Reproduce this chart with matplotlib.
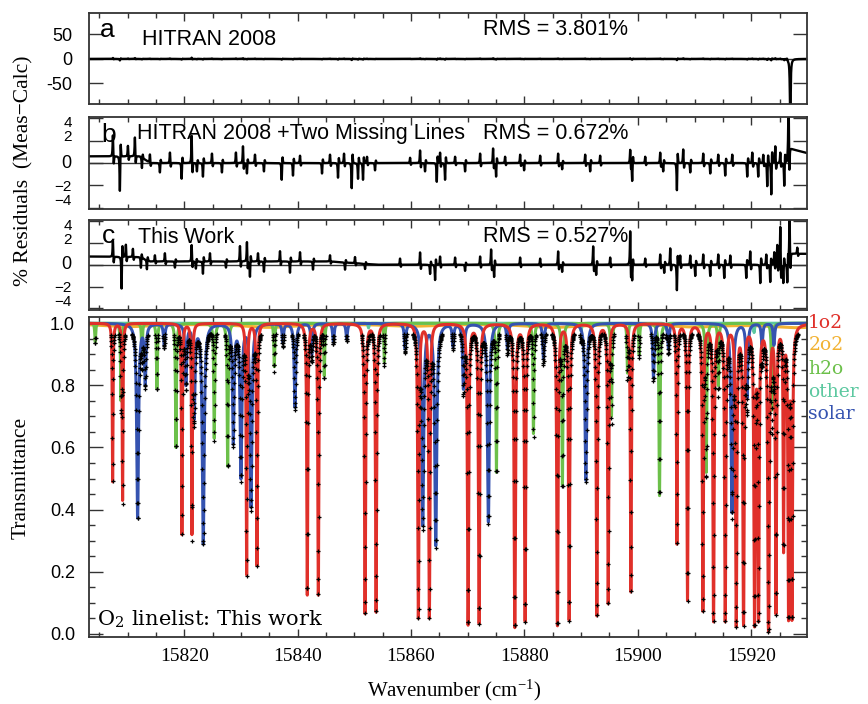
import numpy as np
import matplotlib.pyplot as plt
from matplotlib.ticker import MultipleLocator
from matplotlib.transforms import blended_transform_factory

plt.rcParams['font.family'] = 'Liberation Sans'
plt.rcParams['mathtext.fontset'] = 'stix'
plt.rcParams['axes.unicode_minus'] = False

# wavenumber window (cm-1)
wn_min, wn_max = 15803.2, 15929.8

# ---- line lists: centre (cm-1), transmittance at centre
o2_pos = [15807.37, 15809.13, 15819.59, 15821.36, 15831.01, 15832.83, 15841.70, 15843.65,
          15851.89, 15853.83, 15861.29, 15863.23, 15870.06, 15872.00, 15878.30, 15880.12,
          15885.82, 15887.88, 15892.77, 15894.77, 15898.77, 15906.89, 15908.76, 15911.47,
          15913.35, 15915.41, 15917.35, 15918.64, 15920.58, 15921.29, 15923.05, 15924.36,
          15925.70, 15926.58, 15927.18]
o2_tmin = [0.49, 0.43, 0.32, 0.32, 0.19, 0.22, 0.125, 0.125,
           0.065, 0.07, 0.05, 0.05, 0.028, 0.033, 0.02, 0.04,
           0.026, 0.044, 0.058, 0.097, 0.135, 0.29, 0.108, 0.073,
           0.039, 0.039, 0.023, 0.028, 0.023, 0.04, 0.006, 0.065,
           0.27, 0.044, 0.045]

h2o_pos = [15804.30, 15808.85, 15812.54, 15815.18, 15818.54, 15825.29, 15827.66, 15835.88,
           15844.70, 15855.29, 15875.06, 15881.59, 15886.70, 15895.35, 15898.17, 15900.23,
           15903.82, 15912.06, 15914.20, 15923.65]
h2o_tmin = [0.94, 0.75, 0.90, 0.79, 0.60, 0.63, 0.54, 0.86,
            0.83, 0.875, 0.52, 0.645, 0.48, 0.70, 0.84, 0.90,
            0.445, 0.52, 0.80, 0.72]

solar_pos = [15811.78, 15813.12, 15816.47, 15820.30, 15821.76, 15823.35, 15828.65, 15830.00,
             15831.77, 15837.40, 15839.53, 15842.48, 15846.30, 15848.66, 15858.95, 15862.07,
             15864.36, 15867.40, 15869.23, 15873.64, 15877.00, 15883.35, 15890.83, 15902.76,
             15905.40, 15916.60, 15919.24, 15921.90, 15924.00]
solar_tmin = [0.374, 0.81, 0.93, 0.805, 0.70, 0.29, 0.617, 0.505,
              0.41, 0.94, 0.73, 0.90, 0.94, 0.95, 0.92, 0.35,
              0.285, 0.93, 0.79, 0.36, 0.92, 0.885, 0.494, 0.826,
              0.917, 0.39, 0.76, 0.93, 0.93]

o2o2_pos = [15810.0, 15835.0, 15860.0, 15885.0, 15910.0, 15928.0]
o2o2_tmin = [0.99, 0.988, 0.992, 0.988, 0.99, 0.987]

other_pos = [15852.5, 15890.0, 15905.0, 15920.5]
other_tmin = [0.985, 0.975, 0.98, 0.97]

# ---- residual features (cm-1, % residual)
res_b_pos = [15807.42, 15808.65, 15810.07, 15811.30, 15812.54, 15813.95, 15815.71, 15817.48,
             15819.54, 15821.31, 15822.24, 15823.30, 15824.89, 15826.65, 15829.12, 15830.36,
             15831.06, 15832.48, 15834.06, 15837.19, 15839.18, 15840.42, 15844.30, 15845.71,
             15847.12, 15848.18, 15849.54, 15850.65, 15851.53, 15852.24, 15853.65, 15859.83,
             15861.59, 15862.47, 15864.54, 15865.12, 15866.00, 15867.77, 15869.53, 15872.18,
             15874.47, 15875.00, 15876.59, 15879.24, 15879.94, 15882.77, 15885.94, 15886.65,
             15890.71, 15891.59, 15893.35, 15898.65, 15899.00, 15901.30, 15903.94, 15904.47,
             15906.89, 15908.00, 15909.24, 15911.53, 15912.77, 15914.18, 15915.41, 15916.65,
             15919.29, 15920.18, 15921.23, 15922.12, 15922.82, 15923.53, 15924.24, 15925.12,
             15925.82, 15926.58]
res_b_amp = [2.0, -3.3, 1.0, 1.8, -1.0, 0.8, -0.9, 1.0,
             -1.5, 2.6, -0.8, -1.3, 0.9, -0.9, 1.0, 1.6,
             -1.0, 0.8, -0.8, -1.6, -1.2, 0.7, -1.0, 0.8,
             -1.4, 0.9, -2.4, -1.5, -1.6, 0.6, -0.7, 0.5,
             1.2, -0.8, -1.8, 1.0, -1.6, 0.6, -0.8, 0.9,
             1.4, -1.3, 0.6, 0.8, -0.7, 0.7, 0.9, -0.6,
             0.8, -0.8, 0.7, 1.3, -1.7, 0.6, 1.0, -0.8,
             -2.6, 1.3, -0.9, 0.9, -1.0, 0.8, -1.2, 0.8,
             -1.3, 1.0, -1.3, 0.8, -2.2, -3.0, 1.6, 1.0,
             -2.2, 6.0]
base_b_pos = [15803.2, 15812.2, 15814.0, 15926.3, 15926.7, 15929.8]
base_b_val = [0.6, 0.6, 0.0, 0.0, 1.3, 0.9]

res_c_pos = [15807.42, 15808.95, 15809.71, 15810.95, 15812.36, 15813.42, 15814.83, 15816.59,
             15818.36, 15821.31, 15822.06, 15823.30, 15824.54, 15827.36, 15829.83, 15831.06,
             15831.59, 15833.01, 15834.06, 15836.89, 15838.65, 15840.42, 15842.71, 15845.71,
             15848.36, 15850.12, 15851.89, 15858.06, 15861.59, 15863.36, 15864.24, 15865.12,
             15867.77, 15869.53, 15872.18, 15874.12, 15874.65, 15879.24, 15882.77, 15885.94,
             15886.65, 15892.12, 15892.65, 15895.12, 15898.65, 15899.00, 15901.30, 15903.94,
             15904.65, 15905.71, 15906.89, 15907.47, 15909.24, 15910.12, 15911.53, 15912.77,
             15914.18, 15915.24, 15916.30, 15919.12, 15919.82, 15921.59, 15922.65, 15923.35,
             15924.06, 15924.59, 15925.12, 15925.65, 15926.35, 15926.76, 15928.12]
res_c_amp = [1.6, -3.1, 1.2, 0.8, -1.0, -0.9, 0.6, 0.8,
             -0.6, 1.6, -0.7, -1.2, 0.8, -0.6, 1.5, 1.9,
             -1.5, 0.8, -1.0, 1.0, -1.1, 0.9, -0.8, 0.6,
             -0.7, 0.6, -0.5, 0.6, 1.2, -0.9, -1.5, 0.8,
             0.7, -0.6, 0.8, 1.5, -1.2, 0.7, 0.6, 1.3,
             -0.7, 1.8, -1.0, 0.7, 3.3, -1.5, 0.6, 1.0,
             -0.8, 1.6, -2.5, 0.9, 0.9, -1.1, 1.0, -1.1,
             1.0, -1.3, 0.9, -1.3, 1.3, -1.8, 1.0, -1.7,
             1.2, 1.9, 3.7, -1.8, -1.8, 4.1, 0.6]
base_c_pos = [15803.2, 15812.2, 15814.0, 15845.7, 15854.0, 15926.4, 15926.9, 15929.8]
base_c_val = [0.75, 0.7, 0.3, 0.3, 0.0, 0.0, 1.0, 1.0]

# HITRAN 2008 alone: the missing lines show up as one huge negative residual
miss_pos = [15926.30, 15926.88]
miss_amp = [3.0, -130.0]

# squeezed residual-axis labels, as in the original plot
res_lab_val = [3.55, 2.3, 0.0, -2.15, -3.4]
res_lab_txt = ['4', '2', '0', '\u22122', '\u22124']

species = ['1o2', '2o2', 'h2o', 'other', 'solar']
colors = {'1o2': '#e0302a', '2o2': '#f2b233', 'h2o': '#6cc04a',
          'other': '#5cc8a0', 'solar': '#3553b0'}


def band(x, pos, tmin, hw):
    tau = np.zeros_like(x)
    for p, t in zip(pos, tmin):
        tau += -np.log(t) * hw**2 / (hw**2 + (x - p)**2)
    return np.exp(-tau)


def spikes(x, pos, amp, hw=0.06, back=0.45):
    # each residual feature: main lobe plus a smaller opposite lobe next to it
    r = np.zeros_like(x)
    for p, a in zip(pos, amp):
        r += a * hw**2 / (hw**2 + (x - p)**2)
        r -= back * a * hw**2 / (hw**2 + (x - p - 0.15)**2)
    return r


x = np.arange(wn_min, wn_max, 0.005)
curves = {
    '2o2': band(x, o2o2_pos, o2o2_tmin, 6.0),
    'other': band(x, other_pos, other_tmin, 0.1),
    'h2o': band(x, h2o_pos, h2o_tmin, 0.09),
    'solar': band(x, solar_pos, solar_tmin, 0.15),
    '1o2': band(x, o2_pos, o2_tmin, 0.065),
}

# measured spectrum, sampled coarser
xm = np.arange(wn_min, wn_max, 0.04)
meas = (band(xm, o2_pos, o2_tmin, 0.065) * band(xm, h2o_pos, h2o_tmin, 0.09)
        * band(xm, solar_pos, solar_tmin, 0.15) * band(xm, o2o2_pos, o2o2_tmin, 6.0)
        * band(xm, other_pos, other_tmin, 0.1))
meas = np.where(meas > 0.965, np.nan, meas)

xr = np.arange(wn_min, wn_max, 0.01)
res_b = np.interp(xr, base_b_pos, base_b_val) + spikes(xr, res_b_pos, res_b_amp)
res_c = np.interp(xr, base_c_pos, base_c_val) + spikes(xr, res_c_pos, res_c_amp)
res_a = (spikes(xr, res_b_pos[:-1], res_b_amp[:-1])
         + spikes(xr, miss_pos, miss_amp, hw=0.08, back=0.0))

fig = plt.figure(figsize=(8.68, 7.04), dpi=100)
L, W = 0.1025, 0.827
ax_a = fig.add_axes([L, 0.8523, W, 0.1288])
ax_b = fig.add_axes([L, 0.7027, W, 0.1307])
ax_c = fig.add_axes([L, 0.5597, W, 0.1278])
ax_d = fig.add_axes([L, 0.0952, W, 0.4545])


def style(ax):
    ax.set_xlim(wn_min, wn_max)
    ax.xaxis.set_major_locator(MultipleLocator(20))
    ax.xaxis.set_minor_locator(MultipleLocator(5))
    ax.tick_params(axis='both', which='both', direction='in', top=True, right=True,
                   color='#333333', width=1.0)
    ax.tick_params(axis='x', which='major', length=6)
    ax.tick_params(axis='x', which='minor', length=3.5)
    ax.tick_params(axis='y', which='major', length=10, labelsize=13)
    ax.tick_params(axis='y', which='minor', length=4.5)
    for s in ax.spines.values():
        s.set_linewidth(1.3)
        s.set_color('#333333')


# residual panels
for ax, res in [(ax_a, res_a), (ax_b, res_b), (ax_c, res_c)]:
    style(ax)
    ax.axhline(0, color='#333333', lw=1.0)
    ax.plot(xr, res, color='black', lw=1.7)
    ax.tick_params(labelbottom=False)

ax_a.set_ylim(-92, 93)
ax_a.set_yticks([-50, 0, 50])
ax_a.set_yticklabels(['-50', '0', '50'])
ax_a.tick_params(axis='y', pad=12)
for ax in (ax_b, ax_c):
    ax.set_ylim(-4.15, 4.1)
    ax.set_yticks([-4, -2, 0, 2, 4])
    ax.set_yticklabels([])
    tr = blended_transform_factory(ax.transAxes, ax.transData)
    for v, s in zip(res_lab_val, res_lab_txt):
        ax.text(-0.024, v, s, transform=tr, ha='right', va='center',
                fontsize=13 if s == '0' else 11)

txt = dict(fontsize=15.5, va='baseline', ha='left')
ax_a.text(0.0153, 0.735, 'a', transform=ax_a.transAxes, fontsize=19, va='baseline')
ax_a.text(0.0734, 0.65, 'HITRAN 2008', transform=ax_a.transAxes, **txt)
ax_a.text(0.549, 0.761, 'RMS = 3.801%', transform=ax_a.transAxes, **txt)
ax_b.text(0.0177, 0.735, 'b', transform=ax_b.transAxes, fontsize=19, va='baseline')
ax_b.text(0.0673, 0.761, 'HITRAN 2008 +Two Missing Lines', transform=ax_b.transAxes, **txt)
ax_b.text(0.549, 0.761, 'RMS = 0.672%', transform=ax_b.transAxes, **txt)
ax_c.text(0.0177, 0.741, 'c', transform=ax_c.transAxes, fontsize=19, va='baseline')
ax_c.text(0.0687, 0.741, 'This Work', transform=ax_c.transAxes, **txt)
ax_c.text(0.549, 0.759, 'RMS = 0.527%', transform=ax_c.transAxes, **txt)

# transmittance panel
style(ax_d)
for sp in ['2o2', 'other', 'h2o', 'solar', '1o2']:
    ax_d.plot(x, curves[sp], color=colors[sp], lw=2.2)
ax_d.plot(xm, meas, ls='none', marker='+', ms=3.0, mew=0.9, color='black')
ax_d.set_ylim(-0.01, 1.02)
ax_d.yaxis.set_minor_locator(MultipleLocator(0.05))
ax_d.set_yticks([0.0, 0.2, 0.4, 0.6, 0.8, 1.0])
ax_d.set_yticklabels(['0.0', '0.2', '0.4', '0.6', '0.8', '1.0'])
ax_d.tick_params(axis='y', pad=10)
ax_d.tick_params(axis='x', labelsize=14, pad=8, labelfontfamily='Liberation Serif')

ax_d.text(0.011, 0.055, 'O$_\\mathregular{2}$ linelist: This work', transform=ax_d.transAxes,
          family='DejaVu Serif', fontsize=15, va='center', ha='left')

leg_y = [0.980, 0.9125, 0.8375, 0.7666, 0.697]
for sp, yy in zip(species, leg_y):
    ax_d.text(1.002, yy, sp, transform=ax_d.transAxes, color=colors[sp],
              family='DejaVu Serif', fontsize=13.5, va='center', ha='left')

fig.text(0.028, 0.757, '% Residuals  (Meas\u2212Calc)', rotation=90, ha='center', va='center',
         family='Liberation Serif', fontsize=15.5)
fig.text(0.024, 0.321, 'Transmittance', rotation=90, ha='center', va='center',
         family='Liberation Serif', fontsize=15.5)
fig.text(0.523, 0.02, 'Wavenumber (cm$^\\mathregular{-1}$)', ha='center', va='center',
         family='Liberation Serif', fontsize=15)

fig.savefig('out.png', dpi=100)
